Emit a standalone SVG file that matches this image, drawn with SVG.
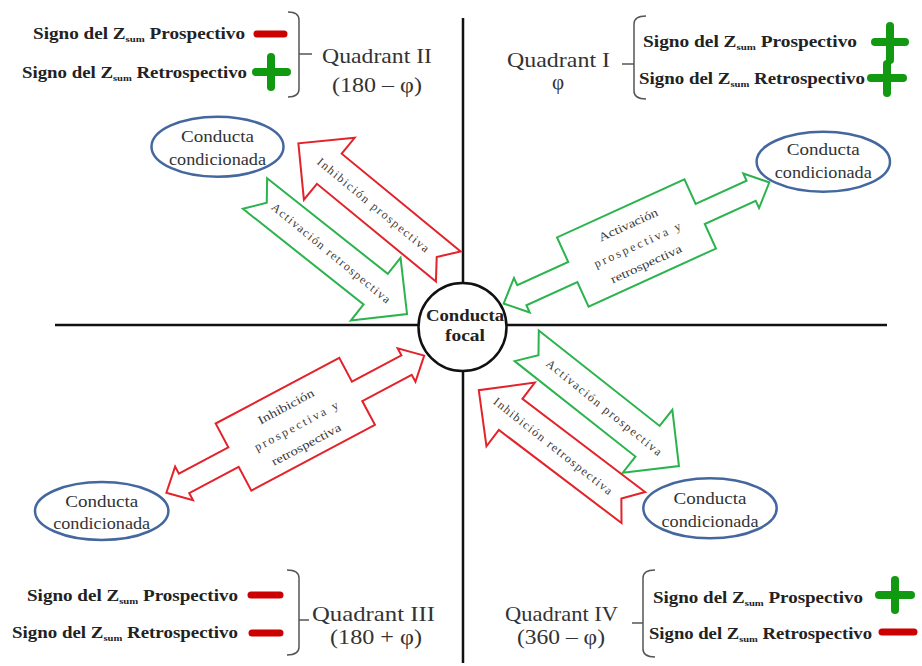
<svg xmlns="http://www.w3.org/2000/svg" xmlns:xlink="http://www.w3.org/1999/xlink" width="922" height="666" viewBox="0 0 922 666" font-family="'Liberation Serif', 'DejaVu Serif', serif">
<style>
text{font-family:'Liberation Serif','DejaVu Serif',serif;}
.axis{stroke:#111;stroke-width:2.5;fill:none;}
.brace{stroke:#555;stroke-width:1.5;fill:none;}
.leg{font-size:16px;font-weight:bold;fill:#222;}
.sub{font-size:9px;}
.quad{font-size:21px;fill:#333;}
.minus{stroke:#cc0000;stroke-width:7;stroke-linecap:round;}
.plus{stroke:#119911;stroke-width:8;stroke-linecap:round;}
.red{fill:#fff;stroke:#e3222a;stroke-width:2;stroke-linejoin:miter;}
.green{fill:#fff;stroke:#2bb34d;stroke-width:2;stroke-linejoin:miter;}
.lbl{font-size:12px;fill:#3a3a3a;text-anchor:middle;}
.ell{fill:#fff;stroke:#44679e;stroke-width:2.5;}
.etxt{font-size:16px;fill:#333;text-anchor:middle;}
.focal{fill:#fff;stroke:#111;stroke-width:2.5;}
.ftxt{font-size:16px;font-weight:bold;fill:#222;text-anchor:middle;}
</style>
<defs>
<path id="arr1" d="M0,-19.5 L154,-19.5 L154,-40 L194,0 L154,40 L154,19.5 L0,19.5 L15,0 Z"/>
<path id="arr2" d="M-146,0 L-126,-19 L-126,-11 L-70,-11 L-70,-38 L70,-38 L70,-11 L126,-11 L126,-19 L146,0 L126,19 L126,11 L70,11 L70,38 L-70,38 L-70,11 L-126,11 L-126,19 Z"/>
</defs>
<rect width="922" height="666" fill="#fff"/>

<g id="axes">
<line class="axis" x1="55" y1="325" x2="887" y2="325"/>
<line class="axis" x1="463" y1="18" x2="463" y2="663"/>
</g>

<g id="legend-q2">
<text class="leg" x="33" y="39" textLength="212" lengthAdjust="spacingAndGlyphs">Signo del Z<tspan class="sub" dy="3">sum</tspan><tspan dy="-3"> Prospectivo</tspan></text>
<text class="leg" x="22" y="78" textLength="225" lengthAdjust="spacingAndGlyphs">Signo del Z<tspan class="sub" dy="3">sum</tspan><tspan dy="-3"> Retrospectivo</tspan></text>
<line class="minus" x1="257" y1="34" x2="284" y2="34"/>
<line class="plus" x1="256" y1="72" x2="287" y2="72"/>
<line class="plus" x1="271" y1="57" x2="271" y2="87"/>
<path class="brace" d="M288,12 Q299,12 299,20 V89 Q299,97 288,97 M299,54 H312"/>
<text class="quad" x="322" y="63" textLength="110" lengthAdjust="spacingAndGlyphs">Quadrant II</text>
<text class="quad" x="332" y="92" textLength="90" lengthAdjust="spacingAndGlyphs">(180 – φ)</text>
</g>

<g id="legend-q1">
<text class="quad" x="507" y="67" textLength="103" lengthAdjust="spacingAndGlyphs">Quadrant I</text>
<text class="quad" x="558" y="89" text-anchor="middle">φ</text>
<path class="brace" d="M646,16 Q634,16 634,24 V91 Q634,99 646,99 M622,64 H634"/>
<text class="leg" x="643" y="47" textLength="214" lengthAdjust="spacingAndGlyphs">Signo del Z<tspan class="sub" dy="3">sum</tspan><tspan dy="-3"> Prospectivo</tspan></text>
<text class="leg" x="639" y="84" textLength="226" lengthAdjust="spacingAndGlyphs">Signo del Z<tspan class="sub" dy="3">sum</tspan><tspan dy="-3"> Retrospectivo</tspan></text>
<line class="plus" x1="875" y1="42" x2="905" y2="42"/>
<line class="plus" x1="890" y1="26" x2="890" y2="60"/>
<line class="plus" x1="871" y1="78" x2="903" y2="78"/>
<line class="plus" x1="887" y1="64" x2="887" y2="93"/>
</g>

<g id="legend-q3">
<text class="leg" x="27" y="601" textLength="211" lengthAdjust="spacingAndGlyphs">Signo del Z<tspan class="sub" dy="3">sum</tspan><tspan dy="-3"> Prospectivo</tspan></text>
<text class="leg" x="12" y="638" textLength="226" lengthAdjust="spacingAndGlyphs">Signo del Z<tspan class="sub" dy="3">sum</tspan><tspan dy="-3"> Retrospectivo</tspan></text>
<line class="minus" x1="251" y1="595" x2="280" y2="595"/>
<line class="minus" x1="252" y1="633" x2="280" y2="633"/>
<path class="brace" d="M287,570 Q299,570 299,578 V647 Q299,655 287,655 M299,620 H309"/>
<text class="quad" x="312" y="621" textLength="123" lengthAdjust="spacingAndGlyphs">Quadrant III</text>
<text class="quad" x="330" y="644" textLength="92" lengthAdjust="spacingAndGlyphs">(180 + φ)</text>
</g>

<g id="legend-q4">
<text class="quad" x="505" y="621" textLength="113" lengthAdjust="spacingAndGlyphs">Quadrant IV</text>
<text class="quad" x="517" y="644" textLength="88" lengthAdjust="spacingAndGlyphs">(360 – φ)</text>
<path class="brace" d="M655,570 Q643,570 643,578 V649 Q643,657 655,657 M632,623 H643"/>
<text class="leg" x="653" y="603" textLength="210" lengthAdjust="spacingAndGlyphs">Signo del Z<tspan class="sub" dy="3">sum</tspan><tspan dy="-3"> Prospectivo</tspan></text>
<text class="leg" x="649" y="639" textLength="223" lengthAdjust="spacingAndGlyphs">Signo del Z<tspan class="sub" dy="3">sum</tspan><tspan dy="-3"> Retrospectivo</tspan></text>
<line class="plus" x1="879" y1="595" x2="911" y2="595"/>
<line class="plus" x1="895" y1="580" x2="895" y2="610"/>
<line class="minus" x1="882" y1="632" x2="914" y2="632"/>
</g>

<g id="connectors">
<use xlink:href="#arr1" href="#arr1" class="red" transform="translate(448.3,266.5) rotate(219.4)"/>
<text class="lbl" transform="translate(373.3,205) rotate(39.5)" y="4" textLength="141" lengthAdjust="spacing">Inhibición prospectiva</text>
<use xlink:href="#arr1" href="#arr1" class="green" transform="translate(255,193.5) rotate(38.4)"/>
<text class="lbl" transform="translate(331,253) rotate(39.5)" y="4" textLength="150" lengthAdjust="spacing">Activación retrospectiva</text>
<use xlink:href="#arr1" href="#arr1" class="green" transform="translate(526.7,345.8) rotate(38.3)"/>
<text class="lbl" transform="translate(604,407.5) rotate(39)" y="4" textLength="145" lengthAdjust="spacing">Activación prospectiva</text>
<use xlink:href="#arr1" href="#arr1" class="red" transform="translate(633.3,507.5) rotate(217.2)"/>
<text class="lbl" transform="translate(553,446) rotate(38.5)" y="4" textLength="148" lengthAdjust="spacing">Inhibición retrospectiva</text>
<use xlink:href="#arr2" href="#arr2" class="green" transform="translate(636.5,243) rotate(-24.5)"/>
<g transform="translate(636.5,243) rotate(-24.5)">
<text class="lbl" y="-16" textLength="64" lengthAdjust="spacingAndGlyphs">Activación</text>
<text class="lbl" y="6" textLength="94" lengthAdjust="spacing">prospectiva y</text>
<text class="lbl" y="27" textLength="77" lengthAdjust="spacingAndGlyphs">retrospectiva</text>
</g>
<use xlink:href="#arr2" href="#arr2" class="red" transform="translate(295.3,424.2) rotate(-28)"/>
<g transform="translate(295.3,424.2) rotate(-28)">
<text class="lbl" y="-16" textLength="62" lengthAdjust="spacingAndGlyphs">Inhibición</text>
<text class="lbl" y="6" textLength="93" lengthAdjust="spacing">prospectiva y</text>
<text class="lbl" y="27" textLength="77" lengthAdjust="spacingAndGlyphs">retrospectiva</text>
</g>
</g>

<g id="focal">
<circle class="focal" cx="462.5" cy="327" r="44"/>
<text class="ftxt" x="465" y="320.5" textLength="78" lengthAdjust="spacingAndGlyphs">Conducta</text>
<text class="ftxt" x="465" y="341" textLength="40" lengthAdjust="spacingAndGlyphs">focal</text>
</g>

<g id="cond-q2">
<ellipse class="ell" cx="217.5" cy="146.7" rx="66" ry="30"/>
<text class="etxt" x="217.5" y="142" textLength="73" lengthAdjust="spacingAndGlyphs">Conducta</text>
<text class="etxt" x="217.5" y="165" textLength="97" lengthAdjust="spacingAndGlyphs">condicionada</text>
</g>
<g id="cond-q1">
<ellipse class="ell" cx="823.3" cy="161.7" rx="66.7" ry="30"/>
<text class="etxt" x="823.3" y="155" textLength="73" lengthAdjust="spacingAndGlyphs">Conducta</text>
<text class="etxt" x="823.3" y="178" textLength="97" lengthAdjust="spacingAndGlyphs">condicionada</text>
</g>
<g id="cond-q3">
<ellipse class="ell" cx="101.7" cy="511" rx="66.7" ry="29"/>
<text class="etxt" x="101.7" y="507" textLength="73" lengthAdjust="spacingAndGlyphs">Conducta</text>
<text class="etxt" x="101.7" y="529" textLength="97" lengthAdjust="spacingAndGlyphs">condicionada</text>
</g>
<g id="cond-q4">
<ellipse class="ell" cx="710" cy="508.3" rx="66.7" ry="30"/>
<text class="etxt" x="710" y="504" textLength="73" lengthAdjust="spacingAndGlyphs">Conducta</text>
<text class="etxt" x="710" y="527" textLength="97" lengthAdjust="spacingAndGlyphs">condicionada</text>
</g>
</svg>
